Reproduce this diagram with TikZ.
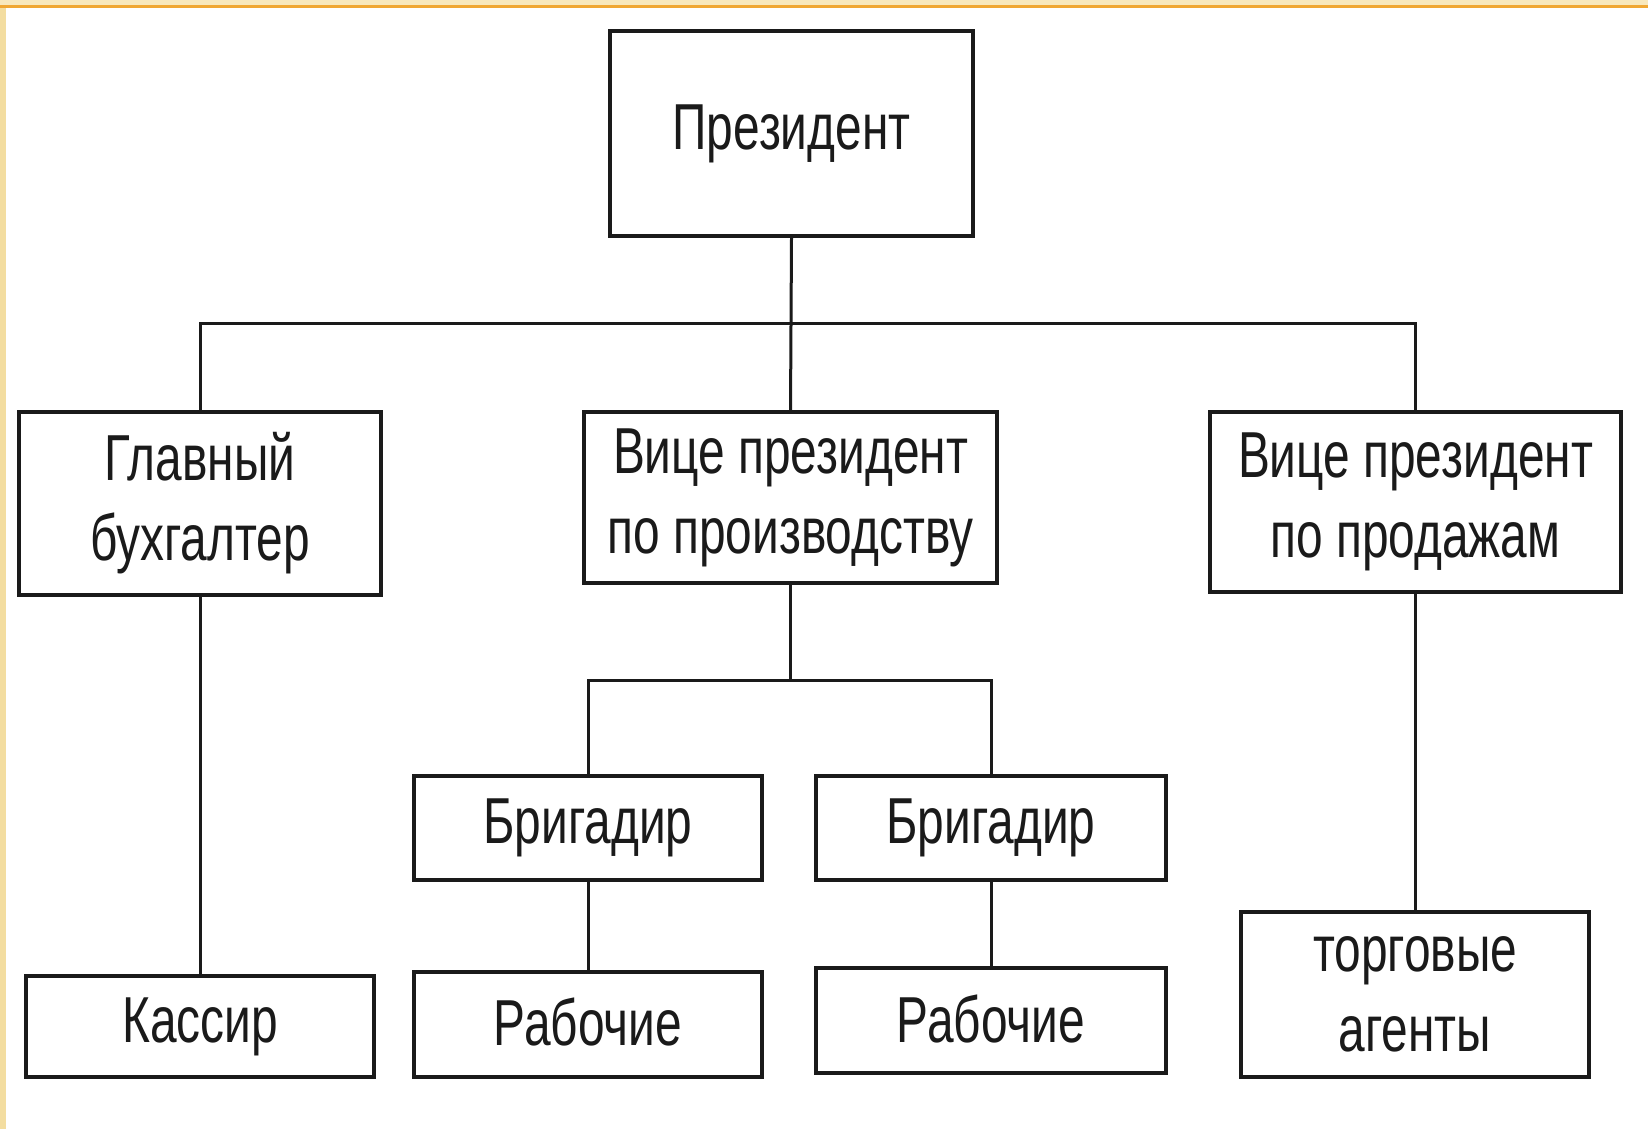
\documentclass[tikz,border=0pt]{standalone}
\usepackage{fontspec}
\newfontfamily\boxfont[FakeStretch=0.736]{Liberation Sans}
\definecolor{bandlight}{HTML}{F8E8BC}
\definecolor{bandorange}{HTML}{F0A733}
\definecolor{stripcol}{HTML}{F3DDA0}
\definecolor{inkcol}{HTML}{1A1A1A}
\begin{document}
\begin{tikzpicture}[x=1pt,y=-1pt,
  orgbox/.style={draw=inkcol,line width=3.2pt,fill=white,inner sep=0pt,align=center,
    font=\boxfont\fontsize{65}{80}\selectfont,text=inkcol},
  link/.style={draw=inkcol,line width=3pt}]
\useasboundingbox (0,0) rectangle (1648,1129);
\fill[white] (0,0) rectangle (1648,1129);
\fill[bandlight] (0,0) rectangle (1648,5);
\fill[bandorange] (0,5) rectangle (1648,8.5);
\fill[stripcol] (0,8.5) rectangle (6,1129);

\node[orgbox,minimum width=363pt,minimum height=205pt] (pres) at (791.5,133.5) {\raisebox{-5pt}{Президент}};
\node[orgbox,minimum width=362pt,minimum height=183pt] (gb) at (200,503.5) {Главный\\бухгалтер};
\node[orgbox,minimum width=413pt,minimum height=171pt] (vpp) at (790.5,497.5) {Вице президент\\по производству};
\node[orgbox,minimum width=411pt,minimum height=180pt] (vps) at (1415.5,502) {Вице президент\\по продажам};
\node[orgbox,minimum width=348pt,minimum height=104pt] (b1) at (588,828) {Бригадир};
\node[orgbox,minimum width=350pt,minimum height=104pt] (b2) at (991,828) {Бригадир};
\node[orgbox,minimum width=348pt,minimum height=101pt] (kas) at (200,1026.5) {Кассир};
\node[orgbox,minimum width=348pt,minimum height=105pt] (r1) at (588,1024.5) {\raisebox{5pt}{Рабочие}};
\node[orgbox,minimum width=350pt,minimum height=105pt] (r2) at (991,1020.5) {\raisebox{4pt}{Рабочие}};
\node[orgbox,minimum width=348pt,minimum height=165pt] (tor) at (1415,994.5) {торговые\\агенты};

\coordinate (bus) at (790.5,323);
\coordinate (sub) at (790.5,680);
\draw[link] (pres.south) -- (vpp.north);
\draw[link] (gb.north) |- (bus) -| (vps.north);
\draw[link] (vpp.south) -- (sub);
\draw[link] (b1.north) |- (sub) -| (b2.north);
\draw[link] (gb.south) -- (kas.north);
\draw[link] (b1.south) -- (r1.north);
\draw[link] (b2.south) -- (r2.north);
\draw[link] (vps.south) -- (vps.south |- tor.north);
\end{tikzpicture}
\end{document}
